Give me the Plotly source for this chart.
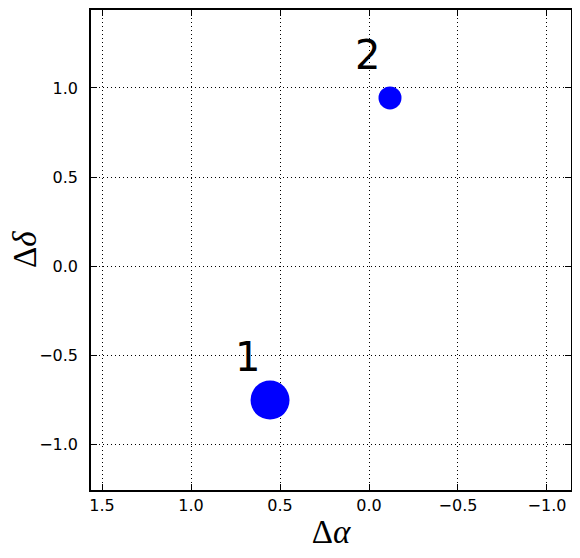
from plotly import graph_objects as go

# source offsets (arcsec) and marker sizes
labels = ['1', '2']
d_alpha = [0.556, -0.118]
d_delta = [-0.753, 0.944]
sizes = [39, 23]

x_ticks = [1.5, 1.0, 0.5, 0.0, -0.5, -1.0]
y_ticks = [-1.0, -0.5, 0.0, 0.5, 1.0]

tick_font = dict(family='DejaVu Sans', size=16, color='black')
title_font = dict(family='Liberation Serif', size=33, color='black')


def fmt(v):
    return f'{v:.1f}'.replace('-', '\u2212')


fig = go.Figure()

fig.add_trace(go.Scatter(
    x=d_alpha,
    y=d_delta,
    mode='markers',
    marker=dict(size=sizes, color='#0000ff', opacity=1, line=dict(width=0)),
    showlegend=False,
))

for lab, xa, yd in zip(labels, d_alpha, d_delta):
    fig.add_annotation(
        x=xa + 0.2, y=yd + 0.105,
        text=lab,
        showarrow=False,
        xanchor='left', yanchor='bottom',
        font=dict(family='DejaVu Sans', size=40, color='black'),
        borderpad=0,
    )

# y axis label placed by hand (standoff is ignored without automargin)
fig.add_annotation(
    xref='paper', yref='paper', x=0, y=0.5,
    xanchor='center', yanchor='middle',
    xshift=-66, textangle=-90,
    text='\u0394<i>\u03b4</i>', showarrow=False,
    font=title_font,
)

axis_common = dict(
    showline=True, linecolor='black', linewidth=1.5, mirror='allticks',
    ticks='inside', ticklen=6, tickwidth=1, tickcolor='black',
    showgrid=True, gridcolor='black', gridwidth=1, griddash='1px,3px',
    zeroline=False, tickfont=tick_font, automargin=False,
)

fig.update_xaxes(
    range=[1.562, -1.135],
    tickvals=x_ticks, ticktext=[fmt(v) for v in x_ticks],
    title=dict(text='\u0394<i>\u03b1</i>', font=title_font, standoff=6),
    **axis_common,
)
fig.update_yaxes(
    range=[-1.258, 1.438],
    tickvals=y_ticks, ticktext=[fmt(v) for v in y_ticks],
    ticklabelstandoff=8,
    **axis_common,
)

# page body adds an 8px offset, so the figure is shrunk to keep the plot box in place
fig.update_layout(
    width=564, height=542,
    margin=dict(l=83, r=1, t=2, b=60),
    plot_bgcolor='white', paper_bgcolor='white',
)

fig.write_html('out.html')
